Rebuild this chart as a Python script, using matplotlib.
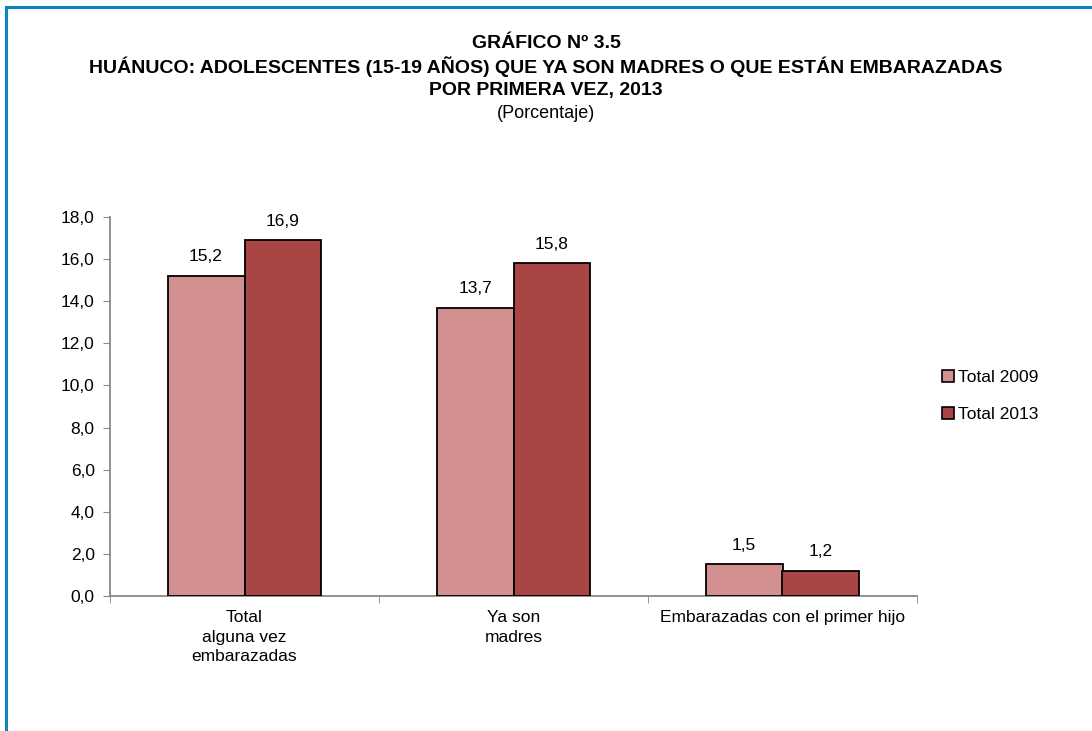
import matplotlib.pyplot as plt
from matplotlib.lines import Line2D
import numpy as np

plt.rcParams['font.family'] = ['Liberation Sans', 'DejaVu Sans']

categories = ['Total\nalguna vez\nembarazadas', 'Ya son\nmadres', 'Embarazadas con el primer hijo']
series_names = ['Total 2009', 'Total 2013']
values_2009 = [15.2, 13.7, 1.5]
values_2013 = [16.9, 15.8, 1.2]
colors = ['#D29190', '#A84645']
yticks = [0, 2, 4, 6, 8, 10, 12, 14, 16, 18]


def fmt(v):
	return f"{v:.1f}".replace('.', ',')


fig = plt.figure(figsize=(10.92, 7.31), dpi=100)
ax = fig.add_axes([110 / 1092, 1 - 596 / 731, (917 - 110) / 1092, (596 - 217) / 731])

x = np.arange(len(categories))
w = 0.286
series = [values_2009, values_2013]
for i, (name, vals) in enumerate(zip(series_names, series)):
	pos = x + (i - 0.5) * w
	ax.bar(pos, vals, w, color=colors[i], edgecolor='black', linewidth=1.3, label=name, zorder=3)
	for p, v in zip(pos, vals):
		ax.text(p, v + 0.55, fmt(v), ha='center', va='bottom', fontsize=12.5)

ax.set_xlim(-0.5, len(categories) - 0.5)
ax.set_ylim(0, 18)
ax.set_yticks(yticks)
ax.set_yticklabels([fmt(t) for t in yticks], fontsize=12.5)
ax.set_xticks(x)
ax.set_xticklabels(categories, fontsize=12.5, linespacing=1.4)
ax.set_xticks(np.arange(len(categories) + 1) - 0.5, minor=True)
ax.tick_params(axis='x', which='major', length=0, pad=10)
ax.tick_params(axis='x', which='minor', length=5, color='#888888', direction='out')
ax.tick_params(axis='y', length=5, color='#888888', direction='out', pad=6)
for s in ['top', 'right']:
	ax.spines[s].set_visible(False)
ax.spines['left'].set_color('#888888')
ax.spines['bottom'].set_color('#888888')
ax.spines['left'].set_linewidth(1.3)
ax.spines['bottom'].set_linewidth(1.3)

handles = [Line2D([], [], marker='s', linestyle='none', markersize=9, markerfacecolor=c,
	markeredgecolor='black', markeredgewidth=1.2) for c in colors]
fig.legend(handles, series_names, loc='center left', bbox_to_anchor=(924 / 1092, 1 - 396 / 731),
	frameon=False, fontsize=12.5, handletextpad=0.05, labelspacing=1.25, handlelength=1.0)

fig.text(0.5, 1 - 43 / 731, 'GRÁFICO Nº 3.5', ha='center', va='center', fontsize=14, fontweight='bold')
fig.text(0.5, 1 - 67 / 731, 'HUÁNUCO: ADOLESCENTES (15-19 AÑOS) QUE YA SON MADRES O QUE ESTÁN EMBARAZADAS',
	ha='center', va='center', fontsize=14, fontweight='bold')
fig.text(0.5, 1 - 90 / 731, 'POR PRIMERA VEZ, 2013', ha='center', va='center', fontsize=14, fontweight='bold')
fig.text(0.5, 1 - 114 / 731, '(Porcentaje)', ha='center', va='center', fontsize=13)

border = '#0B84C0'
fig.add_artist(Line2D([6 / 1092, 1], [1 - 7 / 731, 1 - 7 / 731], color=border, linewidth=2.2))
fig.add_artist(Line2D([6 / 1092, 6 / 1092], [0, 1 - 7 / 731], color=border, linewidth=2.2))

fig.savefig('out.png', dpi=100)
